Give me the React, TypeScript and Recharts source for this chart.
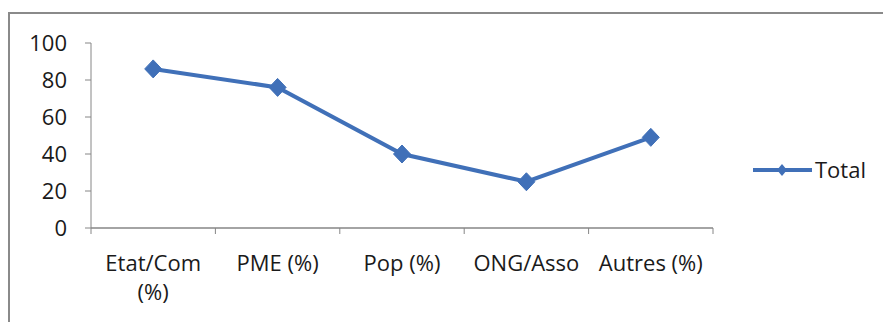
import React from 'react';
import { LineChart, Line, XAxis, YAxis, Legend } from 'recharts';

const categories = ['Etat/Com (%)', 'PME (%)', 'Pop (%)', 'ONG/Asso', 'Autres (%)'];
const totalValues = [86, 76, 40, 25, 49];
const yTicks = [0, 20, 40, 60, 80, 100];
const tickLines: Record<string, string[]> = {
  'Etat/Com (%)': ['Etat/Com', '(%)'],
};

const data = categories.map((c, i) => ({ name: c, Total: totalValues[i] }));

const W = 883;
const H = 322;
const PLOT_LEFT = 91;
const PLOT_RIGHT = 713;
const PLOT_TOP = 43;
const PLOT_BOTTOM = 228;
const Y_AXIS_W = 70;
const X_AXIS_H = 80;
const BAND = (PLOT_RIGHT - PLOT_LEFT) / categories.length;

const LINE_COLOR = '#4070B8';
const AXIS_COLOR = '#868686';
const FONT = '"Open Sans", "Noto Sans", sans-serif';

const XTick = (props: any) => {
  const { x, y, payload, index } = props;
  const lines = tickLines[payload.value] || [payload.value];
  const half = BAND / 2;
  return (
    <g>
      <line x1={x - half} y1={y} x2={x - half} y2={y + 6} stroke={AXIS_COLOR} strokeWidth={1} />
      {index === categories.length - 1 && (
        <line x1={x + half} y1={y} x2={x + half} y2={y + 6} stroke={AXIS_COLOR} strokeWidth={1} />
      )}
      {lines.map((l: string, i: number) => (
        <text
          key={i}
          x={x}
          y={y + 43 + i * 29}
          textAnchor="middle"
          fill="#1a1a1a"
          fontSize={22}
          fontFamily={FONT}
        >
          {l}
        </text>
      ))}
    </g>
  );
};

const Diamond = (props: any) => {
  const { cx, cy } = props;
  if (cx == null || cy == null) return null;
  const hw = 8.5;
  const hh = 9;
  return (
    <polygon
      points={`${cx},${cy - hh} ${cx + hw},${cy} ${cx},${cy + hh} ${cx - hw},${cy}`}
      fill={LINE_COLOR}
      stroke={LINE_COLOR}
      strokeWidth={1}
    />
  );
};

const LegendContent = () => (
  <svg width={130} height={26} style={{ display: 'block', overflow: 'visible' }}>
    <line x1={3} y1={12} x2={62} y2={12} stroke={LINE_COLOR} strokeWidth={4} />
    <polygon points="32,6 37,12 32,18 27,12" fill={LINE_COLOR} />
    <text x={65} y={20} fontSize={22} fontFamily={FONT} fill="#1a1a1a">
      Total
    </text>
  </svg>
);

export default function App() {
  return (
    <div
      style={{
        position: 'fixed',
        left: 0,
        top: 0,
        width: W,
        height: H,
        overflow: 'hidden',
        background: '#ffffff',
      }}
    >
      <div
        style={{
          position: 'absolute',
          left: 8,
          top: 12,
          width: W,
          height: H,
          borderTop: '2px solid #8a8a8a',
          borderLeft: '2px solid #8a8a8a',
          boxSizing: 'border-box',
        }}
      />
      <div style={{ position: 'absolute', left: 0, top: 0 }}>
        <LineChart
          width={W}
          height={H}
          data={data}
          margin={{
            top: PLOT_TOP,
            left: PLOT_LEFT - Y_AXIS_W,
            right: W - PLOT_RIGHT,
            bottom: H - PLOT_BOTTOM - X_AXIS_H,
          }}
        >
          <XAxis
            dataKey="name"
            scale="band"
            height={X_AXIS_H}
            interval={0}
            tickLine={false}
            tickSize={0}
            tickMargin={0}
            axisLine={{ stroke: AXIS_COLOR, strokeWidth: 1.5 }}
            tick={<XTick />}
          />
          <YAxis
            width={Y_AXIS_W}
            domain={[0, 100]}
            ticks={yTicks}
            interval={0}
            tickSize={6}
            tickMargin={18}
            axisLine={{ stroke: AXIS_COLOR, strokeWidth: 1 }}
            tickLine={{ stroke: AXIS_COLOR, strokeWidth: 1 }}
            tick={{ fontSize: 22, fontFamily: FONT, fill: '#1a1a1a' }}
          />
          <Legend
            layout="horizontal"
            align="center"
            verticalAlign="middle"
            wrapperStyle={{ left: 750, top: 158, width: 130, height: 26 }}
            content={<LegendContent />}
          />
          <Line
            type="linear"
            dataKey="Total"
            stroke={LINE_COLOR}
            strokeWidth={4}
            dot={<Diamond />}
            activeDot={false}
            isAnimationActive={false}
          />
        </LineChart>
      </div>
    </div>
  );
}
